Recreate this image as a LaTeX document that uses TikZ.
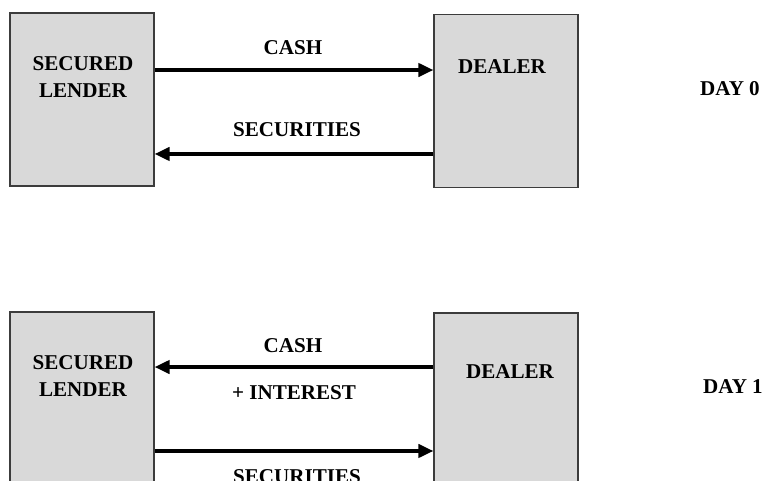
\documentclass[tikz,border=0pt]{standalone}
\usepackage{fontspec}
\setmainfont{Liberation Serif}
\usetikzlibrary{positioning,arrows.meta,calc}
\definecolor{boxFill}{RGB}{217,217,217}
\definecolor{boxLine}{RGB}{60,60,60}
\tikzset{
    party/.style={
        rectangle,
        draw=boxLine,
        line width=0.6pt,
        fill=boxFill,
        minimum width=2.88cm,
        minimum height=3.46cm,
        inner sep=0pt
    },
    lbl/.style={
        font=\fontsize{12}{15.4}\selectfont\bfseries,
        align=center,
        inner sep=0pt
    },
    flow/.style={
        -{Triangle[length=0.3cm,width=0.26cm]},
        line width=2.3pt
    }
}

\begin{document}
\begin{tikzpicture}[x=0.02cm, y=-0.02cm]
    \clip (0,0) rectangle (767,480);
    \fill[white] (0,0) rectangle (767,480);

    % Day 0
    \node[party] (lenderA) at (82,99.5) {};
    \node[party] (dealerA) at (506,101) {};
    \node[lbl] (lenderAtxt) at (83,77) {SECURED\\LENDER};
    \node[lbl] (dealerAtxt) at (502,67) {DEALER};
    \node[lbl] (dayA) at (730,89) {DAY 0};
    \node[lbl] (cashA) at (293,48) {CASH};
    \node[lbl] (secA) at (297,130) {SECURITIES};

    \draw[flow] ([yshift=0.59cm]lenderA.east) -- ([yshift=0.59cm]lenderA.east -| dealerA.west);
    \draw[flow] ([yshift=-1.09cm]lenderA.east -| dealerA.west) -- ([yshift=-1.09cm]lenderA.east);

    % Day 1
    \node[party] (lenderB) at (82,398.5) {};
    \node[party] (dealerB) at (506,399.5) {};
    \node[lbl] (lenderBtxt) at (83,376) {SECURED\\LENDER};
    \node[lbl] (dealerBtxt) at (510,372) {DEALER};
    \node[lbl] (dayB) at (733,387) {DAY 1};
    \node[lbl] (cashB) at (293,346) {CASH};
    \node[lbl] (intB) at (294,393) {+ INTEREST};
    \node[lbl] (secB) at (297,477) {SECURITIES};

    \draw[flow] ([yshift=0.63cm]lenderB.east -| dealerB.west) -- ([yshift=0.63cm]lenderB.east);
    \draw[flow] ([yshift=-1.05cm]lenderB.east) -- ([yshift=-1.05cm]lenderB.east -| dealerB.west);
\end{tikzpicture}
\end{document}
